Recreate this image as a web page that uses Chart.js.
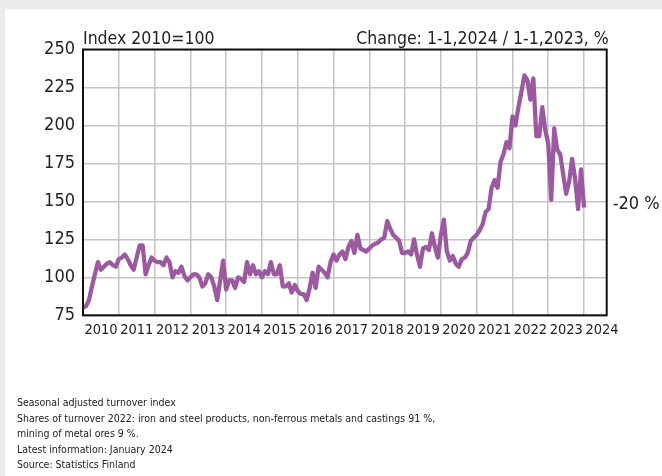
<!DOCTYPE html>
<html>
<head>
<meta charset="utf-8">
<script src="https://cdn.jsdelivr.net/npm/chart.js@4"></script>
<style>
    body { margin: 0; background: #ebebeb; font-family: 'DejaVu Sans Condensed', sans-serif; }
    .panel { position: absolute; left: 5px; top: 9px; right: 0; bottom: 0; background: #fff; }
    #chart { position: absolute; left: 0; top: 0; }
    .notes { position: absolute; left: 17px; top: 395px; font-size: 10.5px; line-height: 15.5px; color: #222; }
</style>
</head>
<body>
<div class="panel"></div>
<canvas id="chart" width="662" height="476"></canvas>
<div class="notes">
    Seasonal adjusted turnover index<br>
    Shares of turnover 2022: iron and steel products, non-ferrous metals and castings 91 %,<br>
    mining of metal ores 9 %.<br>
    Latest information: January 2024<br>
    Source: Statistics Finland
</div>
<script>
// monthly index, Jan 2010 .. Jan 2024
const years = ['2010', '2011', '2012', '2013', '2014', '2015', '2016', '2017', '2018', '2019', '2020', '2021', '2022', '2023', '2024'];
const values = [
    80, 81, 85, 94, 102, 110, 105, 107, 109, 110, 108, 107,
    112, 113, 115, 112, 108, 105, 113, 121, 121, 102, 108, 113,
    111, 110, 110, 108, 113, 110, 100, 104, 103, 107, 101, 98,
    100, 102, 102, 100, 94, 96, 102, 100, 94, 85, 98, 111,
    92, 98, 98, 93, 100, 99, 97, 110, 102, 108, 102, 104,
    100, 104, 102, 110, 102, 102, 108, 94, 94, 96, 90, 95,
    91, 89, 89, 85, 93, 103, 93, 107, 105, 103, 100, 110,
    115, 111, 115, 117, 112, 120, 124, 116, 128, 119, 118, 117,
    119, 121, 122, 123, 125, 126, 137, 132, 128, 126, 124, 116,
    116, 117, 115, 125, 115, 107, 119, 120, 118, 129, 120, 113,
    128, 138, 117, 111, 114, 109, 107, 112, 113, 116, 124, 126,
    128, 131, 135, 143, 145, 159, 164, 159, 176, 181, 189, 185,
    206, 200, 212, 222, 233, 230, 217, 231, 193, 193, 212, 197,
    188, 151, 198, 184, 181, 168, 155, 163, 178, 165, 145, 171,
    146
];
const changeLabel = '-20 %';

const fontName = "'DejaVu Sans Condensed', sans-serif";
const points = values.map((v, i) => ({x: i, y: v}));

// header texts, plot frame and the change label
const extras = {
    id: 'extras',
    afterDraw(chart) {
        const ctx = chart.ctx;
        const area = chart.chartArea;
        ctx.save();
        ctx.strokeStyle = '#111';
        ctx.lineWidth = 2;
        ctx.strokeRect(area.left, area.top, area.right - area.left, area.bottom - area.top);

        ctx.fillStyle = '#222';
        ctx.font = '17.5px ' + fontName;
        ctx.textBaseline = 'alphabetic';
        ctx.textAlign = 'left';
        ctx.fillText('Index 2010=100', area.left, area.top - 6);
        ctx.textAlign = 'right';
        ctx.fillText('Change: 1-1,2024 / 1-1,2023, %', area.right + 2, area.top - 6);

        const y = chart.scales.y.getPixelForValue(values[values.length - 1]);
        ctx.font = '18px ' + fontName;
        ctx.textAlign = 'left';
        ctx.textBaseline = 'middle';
        ctx.fillText(changeLabel, area.right + 6, y - 3);
        ctx.restore();
    }
};

new Chart(document.getElementById('chart').getContext('2d'), {
    type: 'line',
    data: {
        datasets: [{
            data: points,
            borderColor: '#9b599f',
            borderWidth: 4.3,
            borderJoinStyle: 'round',
            pointRadius: 0,
            tension: 0
        }]
    },
    options: {
        responsive: false,
        animation: false,
        layout: {padding: {left: 0, top: 49.5, right: 55.3, bottom: 130.7}},
        plugins: {legend: {display: false}, tooltip: {enabled: false}},
        scales: {
            x: {
                type: 'linear',
                min: 0,
                max: 175.6,
                afterBuildTicks: scale => {
                    scale.ticks = years.map((y, i) => ({value: i * 12}));
                },
                afterFit: scale => { scale.height = 30; },
                grid: {color: '#c4c4c4', lineWidth: 1.5, drawTicks: false},
                border: {display: false},
                ticks: {
                    autoSkip: false,
                    maxRotation: 0,
                    padding: 6,
                    labelOffset: 18,
                    color: '#222',
                    font: {family: fontName, size: 14.5},
                    callback: (v) => years[Math.round(v / 12)]
                }
            },
            y: {
                min: 75,
                max: 250,
                afterFit: scale => { scale.width = 83; },
                grid: {color: '#c4c4c4', lineWidth: 1.5, drawTicks: false},
                border: {display: false},
                ticks: {
                    stepSize: 25,
                    padding: 8,
                    color: '#222',
                    font: {family: fontName, size: 18}
                }
            }
        }
    },
    plugins: [extras]
});
</script>
</body>
</html>
